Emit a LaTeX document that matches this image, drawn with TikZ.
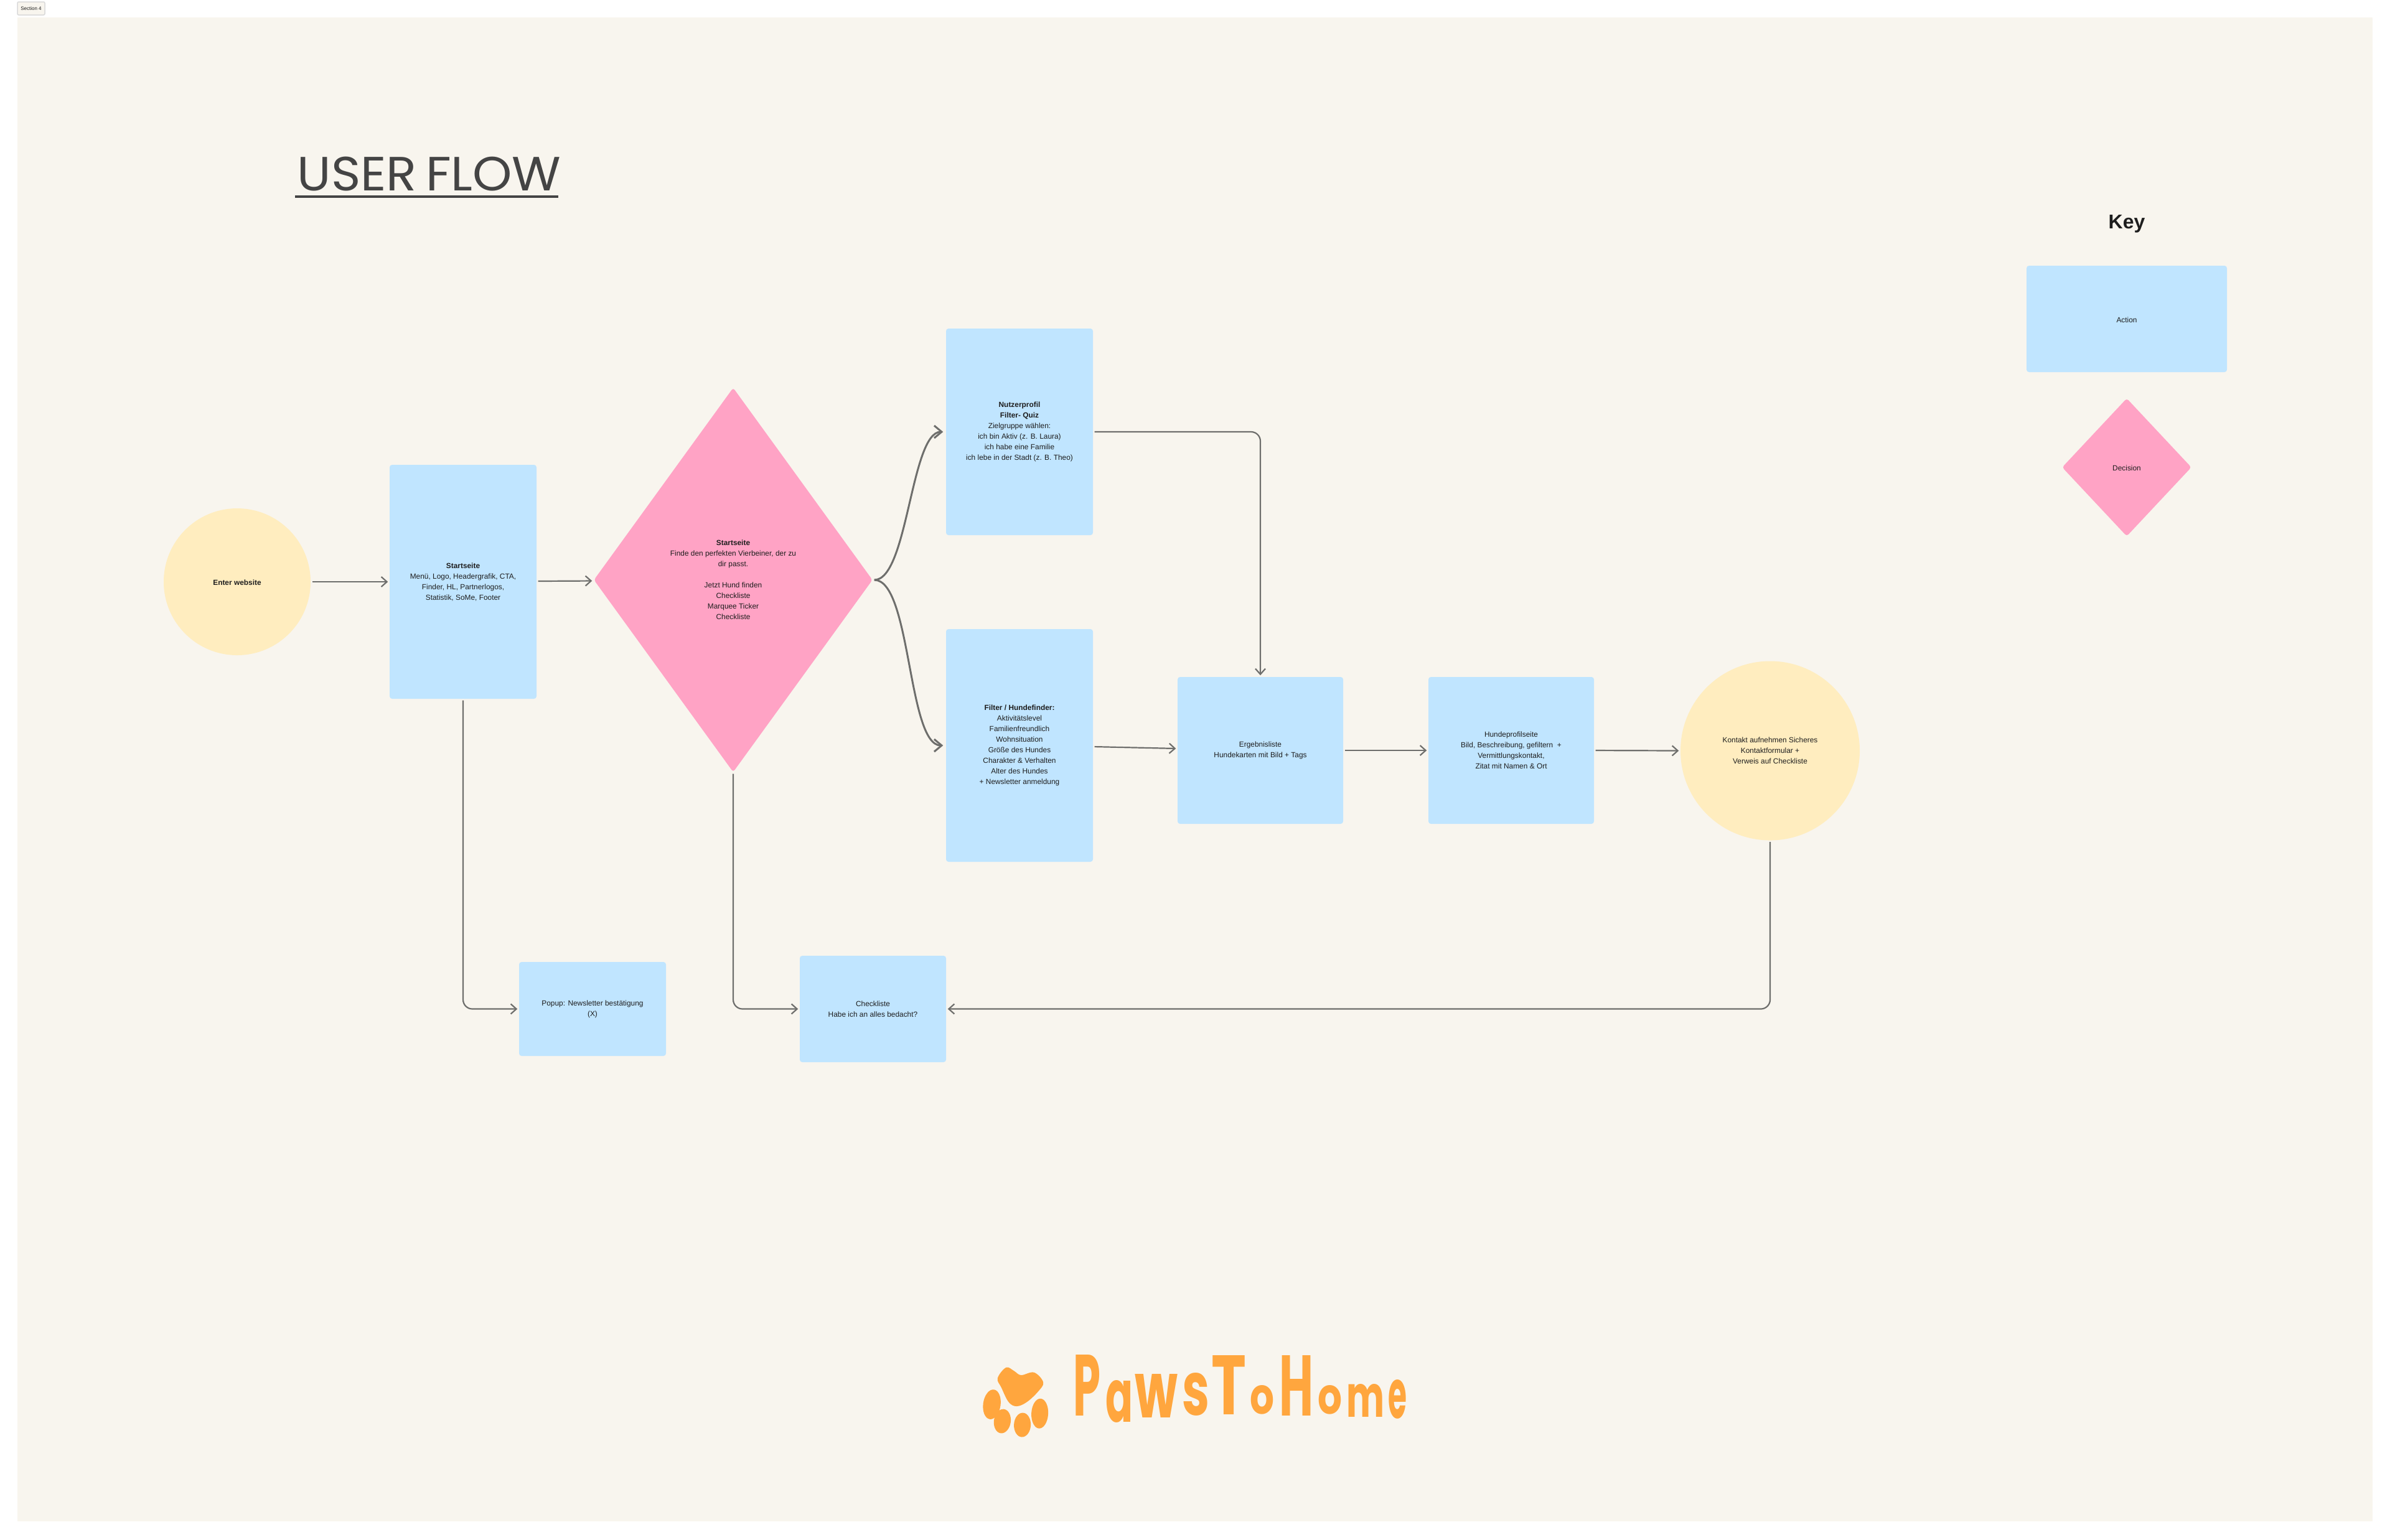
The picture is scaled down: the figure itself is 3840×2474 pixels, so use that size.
\documentclass[tikz,border=0pt]{standalone}
\usepackage{fontspec}
\usepackage{graphicx}
\setmainfont{Liberation Sans}
\newfontfamily\titlefont{Poppins}
\newfontfamily\logofont{Poppins}
\usetikzlibrary{shapes.geometric,arrows.meta}
\newlength\pxu
\setlength\pxu{0.01cm}
\definecolor{paper}{HTML}{F8F5EE}
\definecolor{actionblue}{HTML}{C0E5FF}
\definecolor{decpink}{HTML}{FFA3C5}
\definecolor{startyellow}{HTML}{FFEDBF}
\definecolor{logoorange}{HTML}{FFA63E}
\definecolor{linegrey}{HTML}{6E6E6C}
\definecolor{inkdark}{HTML}{1E1E1E}
\definecolor{titlegrey}{HTML}{444444}
\newcommand{\bodyf}{\fontsize{11.9\pxu}{17\pxu}\selectfont}
\newcommand{\lgl}[5]{\hspace*{#1\pxu}\raisebox{#2\pxu}{\resizebox{#3\pxu}{#4\pxu}{#5}}}
\tikzset{
  txt/.style={font=\bodyf,text=inkdark,align=center,inner sep=0pt,execute at begin node={\rule{0pt}{11.5\pxu}}},
  action/.style={txt,fill=actionblue,rounded corners=4\pxu,minimum width=#1},
  yellowdot/.style={txt,fill=startyellow,circle,minimum size=#1},
  decide/.style={txt,fill=decpink,diamond,rounded corners=4\pxu},
  flow/.style={draw=linegrey,line width=2.2\pxu,-{Straight Barb[length=2.56pt,width=4.55pt]},shorten >=2\pxu,shorten <=2\pxu},
  curveflow/.style={draw=linegrey,line width=3\pxu,-{Straight Barb[length=3.41pt,width=5.69pt]},shorten >=4\pxu,shorten <=2\pxu},
  elbow/.style={flow,rounded corners=15\pxu},
  toe/.style={fill=logoorange}
}
\begin{document}
\begin{tikzpicture}[x=0.01cm,y=-0.01cm]
\useasboundingbox (0,0) rectangle (3840,2474);
\fill[white] (0,0) rectangle (3840,2474);
\fill[paper] (28,28) rectangle (3812,2445);
% section tag
\node[draw=black!15,fill=paper,rounded corners=2\pxu,line width=1.5\pxu,minimum width=44\pxu,minimum height=21\pxu,inner sep=0pt,font=\fontsize{8\pxu}{10\pxu}\selectfont,text=inkdark] (tag) at (50,13.5) {Section 4};
% title
\node[anchor=base west,inner sep=0pt,text=titlegrey,font=\titlefont\fontsize{77\pxu}{80\pxu}\selectfont] (title) at (477,306) {\resizebox{424\pxu}{54.5\pxu}{\spaceskip=0.18em USER FLOW}};
\fill[titlegrey] (474,314) rectangle (897,318);
% key
\node[inner sep=0pt,font=\fontsize{32\pxu}{36\pxu}\selectfont\bfseries,text=inkdark] (keytitle) at (3417,360) {Key};
\node[action=322\pxu,minimum height=171\pxu] (keyaction) at (3417,512.5) {Action};
\node[decide,minimum width=208\pxu,minimum height=222\pxu,shape aspect=0.936] (keydecision) at (3417,751) {Decision};
% main nodes
\node[yellowdot=236\pxu,font=\bodyf\bfseries] (enter) at (381,935) {Enter website};
\node[action=236\pxu,minimum height=376\pxu] (start) at (744,935) {\textbf{Startseite}\\Menü, Logo, Headergrafik, CTA,\\Finder, HL, Partnerlogos,\\Statistik, SoMe, Footer};
\node[decide,minimum width=448\pxu,minimum height=618\pxu,shape aspect=0.724] (hub) at (1178,932) {\textbf{Startseite}\\Finde den perfekten Vierbeiner, der zu\\dir passt.\\\mbox{}\\Jetzt Hund finden\\Checkliste\\Marquee Ticker\\Checkliste};
\node[action=236\pxu,minimum height=332\pxu] (nutzer) at (1638,694) {\textbf{Nutzerprofil}\\\textbf{Filter- Quiz}\\Zielgruppe wählen:\\ich bin Aktiv (z. B. Laura)\\ich habe eine Familie\\ich lebe in der Stadt (z. B. Theo)};
\node[action=236\pxu,minimum height=374\pxu] (filter) at (1638,1198) {\textbf{Filter / Hundefinder:}\\Aktivitätslevel\\Familienfreundlich\\Wohnsituation\\Größe des Hundes\\Charakter \& Verhalten\\Alter des Hundes\\+ Newsletter anmeldung};
\node[action=266\pxu,minimum height=236\pxu] (ergebnis) at (2025,1206) {Ergebnisliste\\Hundekarten mit Bild + Tags};
\node[action=266\pxu,minimum height=236\pxu] (hunde) at (2428,1206) {Hundeprofilseite\\Bild, Beschreibung, gefiltern~ +\\Vermittlungskontakt,\\Zitat mit Namen \& Ort};
\node[yellowdot=288\pxu] (kontakt) at (2844,1206.5) {Kontakt aufnehmen Sicheres\\Kontaktformular +\\Verweis auf Checkliste};
\node[action=236\pxu,minimum height=151\pxu] (popup) at (952,1621.5) {Popup: Newsletter bestätigung\\(X)};
\node[action=235\pxu,minimum height=171\pxu] (check) at (1402.5,1621.5) {Checkliste\\Habe ich an alles bedacht?};
% connectors
\draw[flow] (enter.east) -- (start.west);
\draw[flow] ([yshift=1\pxu]start.east) -- ([yshift=-1.5\pxu]hub.west);
\draw[curveflow] (hub.east) to[out=0,in=180,looseness=0.54] (nutzer.west);
\draw[curveflow] (hub.east) to[out=0,in=180,looseness=0.54] (filter.west);
\draw[elbow] (nutzer.east) -| (ergebnis.north);
\draw[flow] ([yshift=-2\pxu]filter.east) -- ([yshift=3\pxu]ergebnis.west);
\draw[flow] (ergebnis.east) -- (hunde.west);
\draw[flow] (hunde.east) -- (kontakt.west);
\draw[elbow] (start.south) |- (popup.west);
\draw[elbow] (hub.south) |- (check.west);
\draw[elbow] (kontakt.south) |- (check.east);
% logo
\fill[logoorange] plot[smooth cycle,tension=0.6] coordinates {(1640.5,2210) (1661.4,2205.7) (1676.2,2221.7) (1667.6,2236.7) (1649.7,2253.3) (1633.4,2260) (1620.6,2253.3) (1608.9,2230) (1602.8,2215) (1616.5,2197.7) (1629.3,2203.3)};
\fill[toe] (1593.6,2257) ellipse [x radius=14\pxu,y radius=24\pxu,rotate=-8];
\fill[toe] (1610.4,2284) ellipse [x radius=13.5\pxu,y radius=19.5\pxu,rotate=-8];
\fill[toe] (1642.6,2290) ellipse [x radius=13.5\pxu,y radius=19.5\pxu,rotate=-3];
\fill[toe] (1670.6,2271.7) ellipse [x radius=13.5\pxu,y radius=24\pxu,rotate=-3];
\node[anchor=base west,inner sep=0pt,text=logoorange,font=\logofont\bfseries] (logo) at (1724,2280) {%
\lgl{0}{5}{44}{98}{P}%
\lgl{8}{-5}{44}{67}{a}%
\lgl{3}{2}{69}{70}{w}%
\lgl{7}{6}{44}{68}{s}%
\lgl{3}{7}{56}{95}{T}%
\lgl{6}{8}{39}{46}{o}%
\lgl{8}{5}{55}{97}{H}%
\lgl{7}{8}{39}{46}{o}%
\lgl{7}{3}{61}{53}{m}%
\lgl{6}{1}{30}{62}{e}};
\end{tikzpicture}
\end{document}
